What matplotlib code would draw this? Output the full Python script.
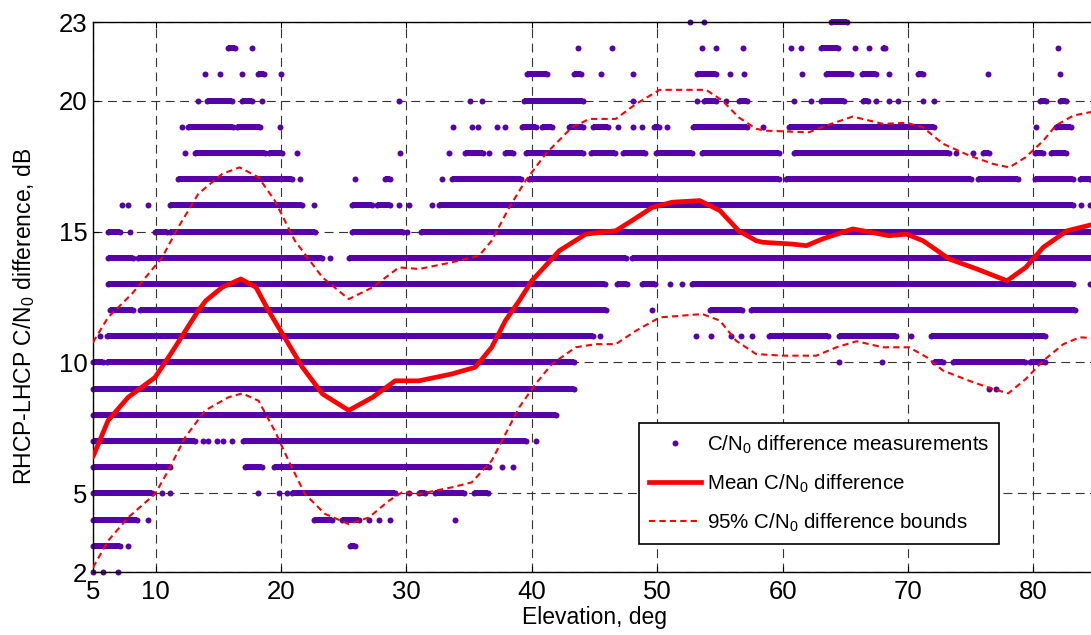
import matplotlib.pyplot as plt
from matplotlib.lines import Line2D

plt.rcParams['font.family'] = ['Liberation Sans', 'DejaVu Sans']
plt.rcParams['mathtext.fontset'] = 'custom'
plt.rcParams['mathtext.rm'] = 'Liberation Sans'

# measurement rows: runs of dense dots (level, start, end)
run_y = [3, 3,
         4, 4, 4,
         5, 5, 5, 5, 5,
         6, 6, 6,
         7, 7,
         8,
         9,
         10, 10, 10, 10, 10,
         11, 11, 11, 11,
         12, 12, 12, 12,
         13, 13, 13, 13,
         14, 14, 14, 14,
         15, 15, 15, 15, 15,
         16, 16, 16, 16,
         17, 17, 17, 17, 17, 17, 17, 17,
         18, 18, 18, 18, 18, 18, 18, 18, 18, 18, 18, 18, 18,
         19, 19, 19, 19, 19, 19, 19, 19, 19, 19,
         20, 20, 20, 20, 20, 20, 20, 20, 20,
         21, 21, 21, 21, 21, 21, 21,
         22, 22, 22,
         23]
run_x0 = [5.0, 25.5,
          5.0, 22.6, 24.9,
          5.0, 20.9, 31.0, 32.3, 35.4,
          5.0, 17.1, 19.4,
          5.0, 17.0,
          5.0,
          5.0,
          5.0, 6.1, 72.1, 73.6, 79.7,
          6.1, 58.9, 64.5, 71.85,
          6.35, 8.75, 54.2, 57.5,
          6.2, 46.8, 48.8, 52.8,
          6.2, 8.6, 25.4, 48.0,
          6.2, 9.95, 11.15, 25.65, 31.2,
          11.15, 25.65, 27.65, 32.6,
          11.8, 28.3, 33.66, 39.8, 60.27, 75.58, 80.1, 83.7,
          13.1, 19.0, 34.7, 37.9, 39.5, 44.7, 47.3, 49.9, 53.6, 60.9, 76.0, 80.1, 81.4,
          12.6, 16.5, 39.25, 40.85, 43.0, 44.85, 49.77, 52.83, 60.5, 81.8,
          14.07, 16.87, 39.4, 53.76, 56.56, 63.07, 66.4, 80.5, 82.1,
          18.2, 39.65, 43.38, 53.2, 63.46, 66.3, 70.8,
          15.8, 63.07, 68.0,
          63.9]
run_x1 = [7.15, 25.9,
          8.5, 24.1, 26.2,
          9.7, 29.1, 31.5, 34.6, 36.5,
          11.15, 18.5, 36.6,
          13.1, 39.5,
          41.9,
          43.4,
          5.8, 43.4, 72.8, 79.3, 80.9,
          44.85, 63.6, 69.05, 80.9,
          8.2, 45.9, 56.8, 83.3,
          45.8, 47.6, 49.8, 83.2,
          8.2, 23.3, 47.5, 84.8,
          7.15, 10.9, 22.7, 29.7, 85.0,
          21.7, 27.25, 28.7, 83.2,
          20.9, 28.7, 39.1, 59.74, 75.05, 78.77, 83.2, 84.5,
          18.7, 20.1, 36.1, 38.5, 44.05, 46.6, 49.0, 52.8, 59.74, 73.3, 76.5, 80.8, 82.6,
          16.2, 18.3, 40.3, 41.65, 44.05, 46.04, 50.17, 57.2, 72.1, 83.0,
          16.07, 17.67, 44.05, 54.7, 57.2, 64.93, 66.8, 81.0, 82.6,
          18.6, 41.25, 43.9, 54.7, 65.46, 67.46, 71.2,
          16.3, 64.4, 68.2,
          65.1]

# isolated dots (level, x)
dot_y = [2, 2, 2,
         3,
         4, 4, 4, 4, 4,
         5, 5, 5, 5, 5, 5,
         6, 6,
         7, 7, 7, 7, 7, 7,
         9, 9,
         10, 10,
         11, 11, 11, 11, 11, 11, 11, 11,
         12,
         13, 13, 13,
         14,
         15, 15,
         16, 16, 16, 16, 16, 16, 16, 16, 16,
         17, 17, 17, 17,
         18, 18, 18, 18, 18, 18, 18,
         19, 19, 19, 19, 19, 19, 19, 19, 19, 19, 19, 19, 19,
         20, 20, 20, 20, 20, 20, 20, 20, 20, 20, 20, 20, 20, 20, 20,
         21, 21, 21, 21, 21, 21, 21, 21, 21, 21, 21, 21,
         22, 22, 22, 22, 22, 22, 22, 22, 22, 22, 22,
         23, 23]
dot_x = [5.0, 5.8, 7.0,
         7.8,
         9.4, 27.0, 27.8, 28.7, 33.9,
         10.5, 11.15, 18.2, 19.8, 20.5, 30.2,
         37.65, 38.5,
         13.8, 14.2, 14.9, 15.4, 16.1, 40.3,
         76.5, 77.0,
         64.5, 67.9,
         5.55, 45.4, 53.1, 54.3, 55.9, 56.7, 57.6, 70.25,
         49.6,
         51.0, 52.0, 84.5,
         23.9,
         7.95, 30.05,
         7.3, 7.8, 9.4, 22.65, 29.4, 30.2, 32.07, 83.8, 84.5,
         21.5, 25.9, 32.86, 84.5,
         12.3, 21.3, 29.5, 33.4, 36.6, 73.8, 75.2,
         12.1, 19.9, 33.74, 35.2, 35.74, 37.26, 37.87, 46.84, 48.04, 48.78, 50.8, 58.4, 80.2,
         13.4, 18.47, 29.4, 35.1, 36.06, 48.1, 53.15, 55.5, 60.93, 62.27, 67.46, 68.52, 69.2, 71.2, 72.1,
         13.94, 15.14, 16.92, 20.0, 45.5, 48.1, 55.8, 56.9, 61.55, 68.5, 76.4, 82.15,
         17.67, 43.65, 46.39, 53.58, 54.7, 56.88, 60.67, 61.47, 65.8, 66.9, 81.97,
         52.6, 53.7]

mean_x = [5.0, 6.2, 7.8, 9.95, 11.3, 12.6, 13.4, 14.0, 15.3, 16.8, 18.0, 19.0,
          20.6, 21.7, 23.3, 25.4, 27.3, 29.1, 31.0, 33.6, 35.5, 36.8, 37.9, 39.0,
          40.0, 42.2, 44.3, 46.7, 48.0, 49.6, 51.2, 53.4, 55.0, 56.5, 57.9, 58.4,
          60.8, 61.9, 63.2, 65.6, 68.5, 69.9, 71.2, 73.3, 75.5, 77.9, 79.4, 80.8,
          82.7, 85.0]
mean_y = [6.4, 7.78, 8.67, 9.43, 10.4, 11.38, 11.98, 12.36, 12.87, 13.19, 12.87, 11.98,
          10.7, 9.82, 8.8, 8.17, 8.67, 9.3, 9.3, 9.56, 9.82, 10.58, 11.6, 12.36,
          13.12, 14.27, 14.9, 15.03, 15.42, 15.92, 16.12, 16.18, 15.8, 15.03, 14.65, 14.59,
          14.52, 14.46, 14.72, 15.1, 14.84, 14.9, 14.65, 13.95, 13.57, 13.12, 13.63, 14.4,
          15.03, 15.3]

upper_x = [5.0, 6.2, 8.1, 10.5, 11.8, 13.4, 15.3, 16.7, 18.2, 19.5, 21.1, 23.3,
           25.4, 27.3, 29.4, 31.0, 33.6, 35.8, 36.8, 38.2, 39.5, 41.1, 43.2, 44.6,
           46.7, 48.3, 50.2, 53.9, 55.2, 56.5, 57.9, 58.7, 62.1, 63.5, 65.6, 68.0,
           69.9, 71.2, 72.8, 74.9, 76.8, 78.1, 79.4, 80.8, 81.8, 83.2, 85.0]
upper_y = [10.77, 11.72, 12.62, 14.0, 15.16, 16.44, 17.2, 17.45, 17.07, 16.18, 14.65, 13.25,
           12.42, 12.87, 13.63, 13.57, 13.82, 14.08, 14.65, 15.92, 16.94, 17.96, 18.98, 19.3,
           19.3, 19.87, 20.41, 20.41, 20.0, 19.36, 18.92, 18.85, 18.79, 19.05, 19.39, 19.11,
           19.15, 18.98, 18.35, 17.9, 17.58, 17.45, 17.84, 18.47, 19.05, 19.43, 19.6]

lower_x = [5.0, 6.2, 7.8, 9.95, 11.0, 12.35, 13.95, 15.8, 16.9, 18.2, 19.5, 20.6,
           21.9, 23.5, 25.4, 27.0, 28.6, 29.65, 31.0, 33.6, 35.2, 36.8, 37.9, 39.0,
           40.3, 41.6, 43.5, 45.1, 46.7, 48.3, 50.2, 53.6, 55.0, 56.3, 57.9, 60.0,
           62.7, 64.3, 65.9, 68.0, 70.1, 71.5, 72.8, 74.9, 76.5, 78.0, 79.4, 80.8,
           82.4, 83.7, 85.0]
lower_y = [2.17, 3.19, 4.08, 4.98, 5.87, 7.14, 8.17, 8.67, 8.82, 8.54, 7.39, 6.25,
           4.98, 4.22, 3.83, 4.08, 4.72, 5.04, 4.98, 5.23, 5.42, 6.25, 7.27, 8.29,
           9.18, 9.94, 10.58, 10.7, 10.7, 11.21, 11.72, 11.85, 11.6, 10.83, 10.32, 10.26,
           10.26, 10.58, 10.81, 10.58, 10.58, 10.2, 9.69, 9.3, 9.03, 8.82, 9.37, 10.07,
           10.7, 10.96, 10.93]

x_ticks = [5, 10, 20, 30, 40, 50, 60, 70, 80]
y_ticks = [2, 5, 10, 15, 20, 23]

purple = '#5500a8'
dot_size = 4.3

fig = plt.figure(figsize=(10.91, 6.35), dpi=100)
ax = fig.add_axes([93 / 1091, 63 / 635, 1003 / 1091, 550 / 635])

ax.hlines(run_y, run_x0, run_x1, colors=purple, lw=dot_size,
          capstyle='butt', zorder=2, clip_on=False)
ax.scatter(run_x0 + run_x1 + dot_x, run_y + run_y + dot_y, s=dot_size ** 2,
           c=purple, linewidths=0, zorder=2, clip_on=False)

ax.plot(mean_x, mean_y, color='red', lw=3.4, zorder=3,
        solid_capstyle='round', solid_joinstyle='round')
ax.plot(upper_x, upper_y, color='red', lw=1.5, ls=(0, (3, 2)), zorder=3,
        dash_joinstyle='round')
ax.plot(lower_x, lower_y, color='red', lw=1.5, ls=(0, (3, 2)), zorder=3,
        dash_joinstyle='round')

ax.set_xlim(5, 85)
ax.set_ylim(2, 23)
ax.set_xticks(x_ticks)
ax.set_yticks(y_ticks)
ax.tick_params(direction='in', length=4, width=0.8, top=True, right=True,
               labelsize=18.5)
ax.tick_params(axis='x', pad=6)
ax.tick_params(axis='y', pad=4)
ax.grid(True, color='0.2', lw=0.8, ls=(0, (8, 5)))
ax.set_axisbelow(True)
for s in ax.spines.values():
    s.set_linewidth(1.0)

ax.set_xlabel('Elevation, deg', fontsize=16.5)
ax.xaxis.set_label_coords(0.5, -0.062)
ax.set_ylabel(r'RHCP-LHCP C/N$_\mathregular{0}$ difference, dB', fontsize=16.5)
ax.yaxis.set_label_coords(-0.056, 0.465)

handles = [Line2D([], [], ls='none', marker='o', ms=dot_size, mew=0, color=purple),
           Line2D([], [], color='red', lw=3.4),
           Line2D([], [], color='red', lw=1.5, ls=(0, (3, 2)))]
labels = [r'C/N$_\mathregular{0}$ difference measurements',
          r'Mean C/N$_\mathregular{0}$ difference',
          r'95% C/N$_\mathregular{0}$ difference bounds']
leg = ax.legend(handles, labels, loc='upper left',
                bbox_to_anchor=(639 / 1091, 1 - 423 / 635),
                bbox_transform=fig.transFigure, borderaxespad=0,
                fontsize=14.8, handlelength=2.5, handletextpad=0.3,
                labelspacing=0.8, borderpad=0.5, fancybox=False,
                framealpha=1, edgecolor='black')
leg.get_frame().set_linewidth(1.2)

fig.savefig('out.png', dpi=100)
